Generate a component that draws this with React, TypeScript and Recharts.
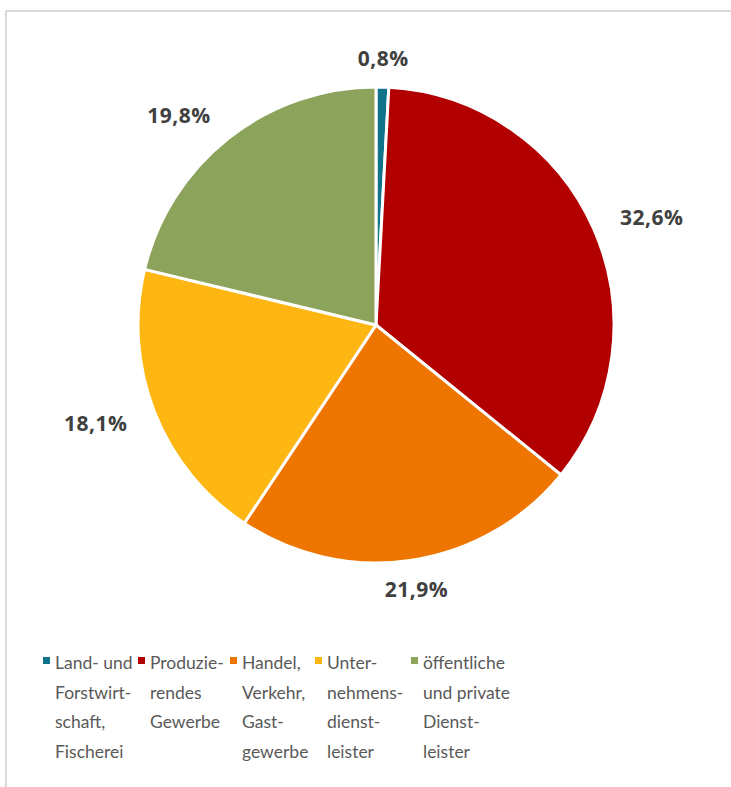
import { PieChart, Pie, Cell, Legend } from 'recharts';

const categories = [
  'Land- und Forstwirtschaft, Fischerei',
  'Produzierendes Gewerbe',
  'Handel, Verkehr, Gastgewerbe',
  'Unternehmensdienstleister',
  'öffentliche und private Dienstleister',
];

// legend labels as hyphenated in the original
const legendLines = [
  ['Land- und', 'Forstwirt-', 'schaft,', 'Fischerei'],
  ['Produzie-', 'rendes', 'Gewerbe'],
  ['Handel,', 'Verkehr,', 'Gast-', 'gewerbe'],
  ['Unter-', 'nehmens-', 'dienst-', 'leister'],
  ['öffentliche', 'und private', 'Dienst-', 'leister'],
];

const shares = [0.8, 32.6, 21.9, 18.1, 19.8];

const colors = ['#10738a', '#b20000', '#ee7600', '#fdb612', '#8ca35b'];

const colWidths = [95, 92, 85, 96, 110];

const data = categories.map((name, i) => ({ name, value: shares[i] }));

const RAD = Math.PI / 180;

function PctLabel(props: any) {
  const { cx, cy, midAngle, outerRadius, value } = props;
  const r = outerRadius + 29;
  const cos = Math.cos(-midAngle * RAD);
  const x = cx + r * cos;
  const y = cy + r * Math.sin(-midAngle * RAD);
  const anchor = cos > 0.3 ? 'start' : cos < -0.3 ? 'end' : 'middle';
  return (
    <text
      x={x}
      y={y}
      textAnchor={anchor}
      dominantBaseline="central"
      fill="#404040"
      fontSize={21}
      fontWeight={700}
      letterSpacing={0.5}
      fontFamily="'Open Sans', sans-serif"
    >
      {value.toFixed(1).replace('.', ',')}%
    </text>
  );
}

function LegendColumns() {
  return (
    <div style={{ display: 'flex', fontFamily: 'Lato, sans-serif', fontSize: 17.5, color: '#595959' }}>
      {legendLines.map((lines, i) => (
        <div key={i} style={{ display: 'flex', width: colWidths[i] }}>
          <div
            style={{
              width: 7,
              height: 7,
              background: colors[i],
              marginTop: 9,
              marginRight: 5,
              flexShrink: 0,
            }}
          />
          <div style={{ lineHeight: '29.5px' }}>
            {lines.map((l, j) => (
              <div key={j} style={{ whiteSpace: 'nowrap' }}>
                {l}
              </div>
            ))}
          </div>
        </div>
      ))}
    </div>
  );
}

export default function App() {
  return (
    <div style={{ position: 'absolute', left: 0, top: 0, width: 731, height: 787, background: '#fff', overflow: 'hidden' }}>
      <div
        style={{
          position: 'absolute',
          left: 5,
          top: 10,
          width: 724,
          height: 775,
          borderLeft: '2px solid #d9d9d9',
          borderTop: '2px solid #d9d9d9',
        }}
      />
      <div style={{ position: 'absolute', left: 0, top: 0 }}>
        <PieChart width={731} height={787}>
          <Pie
            data={data}
            dataKey="value"
            nameKey="name"
            cx={371}
            cy={320}
            outerRadius={238}
            startAngle={90}
            endAngle={-270}
            stroke="#ffffff"
            strokeWidth={3}
            label={PctLabel}
            labelLine={false}
            isAnimationActive={false}
          >
            {data.map((d, i) => (
              <Cell key={d.name} fill={colors[i]} />
            ))}
          </Pie>
          <Legend
            content={<LegendColumns />}
            wrapperStyle={{ position: 'absolute', top: 648, left: 43, width: 600 }}
          />
        </PieChart>
      </div>
    </div>
  );
}
